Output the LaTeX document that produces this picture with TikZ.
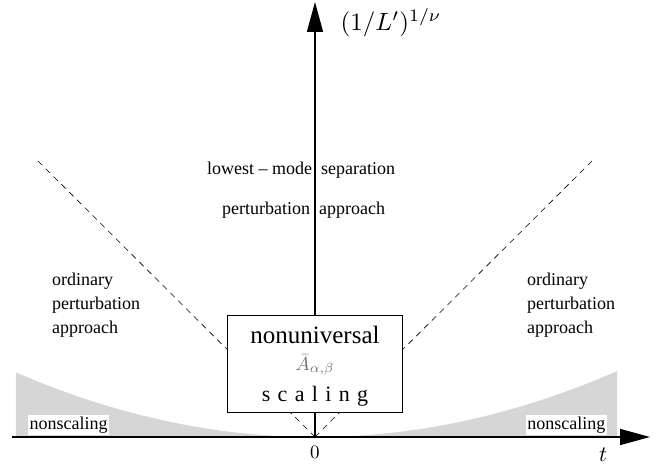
\documentclass[tikz,border=0pt]{standalone}
\usepackage{fontspec}
\setmainfont{Liberation Serif}
\usetikzlibrary{arrows.meta}
\tikzset{
  region/.style={font=\fontsize{18}{24}\selectfont, align=left, inner sep=0pt},
  tag/.style={font=\fontsize{18}{20}\selectfont, fill=white, inner sep=1.5pt},
  axis/.style={line width=1.6pt, -{Triangle[length=30pt,width=16pt]}},
  boundary/.style={dashed, dash pattern=on 6pt off 5pt, line width=0.6pt}
}
\begin{document}
\begin{tikzpicture}[x=1pt, y=1pt]
\useasboundingbox (-315,-30) rectangle (349,437);
% shaded nonscaling regions
\fill[black!16] plot[domain=-299:0, samples=60] (\x, {65*(\x/300)^2}) -- (0,0) -- (-299,0) -- cycle;
\fill[black!16] plot[domain=0:302, samples=60] (\x, {65*(\x/300)^2}) -- (302,0) -- (0,0) -- cycle;
\coordinate (o) at (0,0);
\coordinate (xs) at (-303,0);
\coordinate (xe) at (335,0);
\coordinate (ye) at (0,435);
\coordinate (dl) at (-280,279);
\coordinate (dr) at (280,279);
\draw[boundary] (o) -- (dl);
\draw[boundary] (o) -- (dr);
\draw[axis] (xs) -- (xe);
\draw[axis] (o) -- (ye);
\node[draw, fill=white, line width=0.6pt, minimum width=175pt, minimum height=97pt] (box) at (0,73.5) {};
\node[font=\fontsize{25}{28}\selectfont] (nonuniv) at (0,102) {nonuniversal};
\node[text=black!55, scale=1.9, inner sep=0pt] (amp) at (0,72) {$\bar{A}_{\alpha,\beta}$};
\node[font=\fontsize{22}{26}\selectfont, inner sep=0pt] (scal) at (0,41) {s\,\,c\,\,a\,\,l\,\,i\,\,n\,\,g};
\node[scale=2.5] (ylab) at (76,414) {$(1/L')^{1/\nu}$};
\node[scale=1.9] (zero) at (0,-15) {$0$};
\node[scale=2.2] (tlab) at (288,-18) {$t$};
\node[region, anchor=west] (lowest) at (-108,267) {lowest -- mode\ \ separation};
\node[region, anchor=west] (pert) at (-93,227) {perturbation\ \ approach};
\node[region, anchor=north west] (ordl) at (-263,164) {ordinary\\perturbation\\approach};
\node[region, anchor=north west] (ordr) at (212,164) {ordinary\\perturbation\\approach};
\node[tag, anchor=west] (nsl) at (-287,12) {nonscaling};
\node[tag, anchor=east] (nsr) at (292,12) {nonscaling};
\end{tikzpicture}
\end{document}
